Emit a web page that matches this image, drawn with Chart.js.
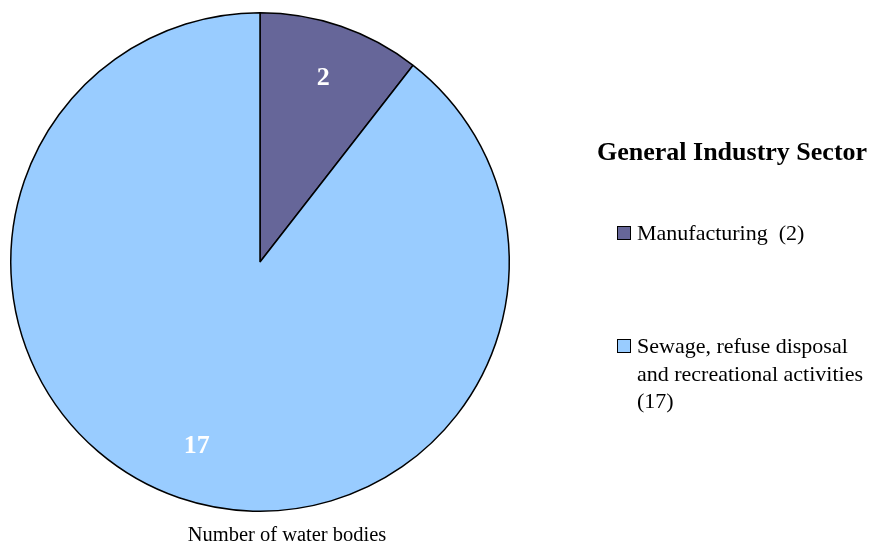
<!DOCTYPE html>
<html>
<head>
<meta charset="utf-8">
<script src="https://cdn.jsdelivr.net/npm/chart.js@4"></script>
<style>
  body { margin: 0; background: #fff; }
  canvas { display: block; }
</style>
</head>
<body>
<canvas id="chart" width="873" height="544"></canvas>
<script>
var categories = ['Manufacturing', 'Sewage, refuse disposal and recreational activities'];
var values = [2, 17];
var colors = ['#666699', '#99ccff'];
var legendTitle = 'General Industry Sector';
var axisTitle = 'Number of water bodies';

var serif = '"Liberation Serif", "Times New Roman", serif';

function wrapText(ctx, text, maxWidth) {
  var words = text.split(' ');
  var lines = [];
  var line = '';
  for (var i = 0; i < words.length; i++) {
    var test = line ? line + ' ' + words[i] : words[i];
    if (line && ctx.measureText(test).width > maxWidth) {
      lines.push(line);
      line = words[i];
    } else {
      line = test;
    }
  }
  if (line) lines.push(line);
  return lines;
}

var extrasPlugin = {
  id: 'extras',
  afterDraw: function (chart) {
    var ctx = chart.ctx;
    var meta = chart.getDatasetMeta(0);
    ctx.save();

    // value labels inside the slices
    ctx.fillStyle = '#fff';
    ctx.font = 'bold 26px ' + serif;
    ctx.textAlign = 'center';
    ctx.textBaseline = 'middle';
    meta.data.forEach(function (arc, i) {
      var p = arc.getProps(['x', 'y', 'startAngle', 'endAngle', 'outerRadius'], true);
      var mid = (p.startAngle + p.endAngle) / 2;
      var r = p.outerRadius * 0.78;
      ctx.fillText(String(values[i]), p.x + Math.cos(mid) * r, p.y + Math.sin(mid) * r);
    });

    // axis title under the pie
    ctx.fillStyle = '#000';
    ctx.textBaseline = 'alphabetic';
    ctx.font = '20.5px ' + serif;
    ctx.fillText(axisTitle, 287, 541);

    // legend
    ctx.textAlign = 'left';
    ctx.font = 'bold 26px ' + serif;
    ctx.fillText(legendTitle, 597, 160);

    ctx.font = '22px ' + serif;
    var baselines = [240, 353];
    categories.forEach(function (cat, i) {
      var label = i === 0 ? cat + '  (' + values[i] + ')' : cat + ' (' + values[i] + ')';
      var lines = wrapText(ctx, label, 244);
      var y = baselines[i];
      ctx.fillStyle = colors[i];
      ctx.fillRect(617, y - 14, 14, 14);
      ctx.strokeStyle = '#000';
      ctx.lineWidth = 1;
      ctx.strokeRect(617.5, y - 13.5, 13, 13);
      ctx.fillStyle = '#000';
      lines.forEach(function (ln, j) {
        ctx.fillText(ln, 637, y + j * 27.5);
      });
    });

    ctx.restore();
  }
};

new Chart(document.getElementById('chart'), {
  type: 'pie',
  data: {
    labels: categories,
    datasets: [{
      data: values,
      backgroundColor: colors,
      borderColor: '#000',
      borderWidth: 1.5
    }]
  },
  options: {
    responsive: false,
    animation: false,
    layout: { padding: { left: 10, top: 12, right: 363, bottom: 32 } },
    plugins: {
      legend: { display: false },
      tooltip: { enabled: false }
    }
  },
  plugins: [extrasPlugin]
});
</script>
</body>
</html>
